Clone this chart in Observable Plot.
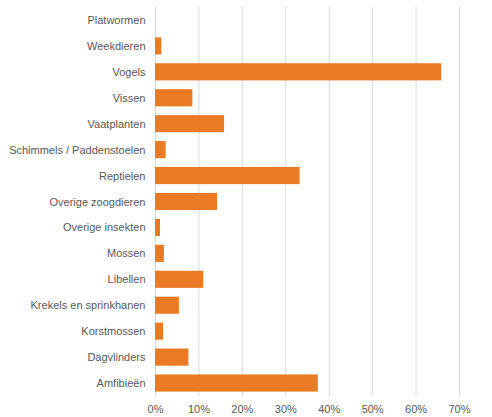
<!DOCTYPE html>
<html>
<head>
<meta charset="utf-8">
<script src="https://cdn.jsdelivr.net/npm/d3@7"></script>
<script src="https://cdn.jsdelivr.net/npm/@observablehq/plot@0.6"></script>
<style>
  html, body { margin: 0; padding: 0; background: #fff; }
  svg { display: block; }
</style>
</head>
<body>
<div id="chart"></div>
<script>
const categories = [
  "Platwormen", "Weekdieren", "Vogels", "Vissen", "Vaatplanten",
  "Schimmels / Paddenstoelen", "Reptielen", "Overige zoogdieren",
  "Overige insekten", "Mossen", "Libellen", "Krekels en sprinkhanen",
  "Korstmossen", "Dagvlinders", "Amfibieën"
];
const values = [0, 1.45, 65.9, 8.6, 15.9, 2.45, 33.3, 14.3, 1.15, 2.05, 11.1, 5.5, 1.85, 7.7, 37.5];
const xTicks = [0, 10, 20, 30, 40, 50, 60, 70];

const data = categories.map((c, i) => ({category: c, value: values[i]}));

const chart = Plot.plot({
  width: 492,
  height: 417,
  marginLeft: 155,
  marginRight: 33,
  marginTop: 7,
  marginBottom: 21,
  style: {fontFamily: "'Liberation Sans', Arial, sans-serif", fontSize: "11px", color: "#595959", background: "#fff"},
  x: {domain: [0, 70], ticks: xTicks, tickFormat: d => d + "%", label: null},
  y: {domain: categories, paddingInner: 0.34, paddingOuter: 0.17, round: false, label: null},
  marks: [
    Plot.gridX(xTicks, {stroke: "#d9d9d9", strokeOpacity: 1, strokeWidth: 1}),
    Plot.barX(data, {x: "value", y: "category", fill: "#ea7a24"}),
    Plot.axisX(xTicks, {tickSize: 0, tickPadding: 9, tickFormat: d => d + "%", fill: "#595959", fontSize: 11, label: null}),
    Plot.axisY(categories, {tickSize: 0, tickPadding: 10, fill: "#595959", fontSize: 11, label: null})
  ]
});
document.getElementById("chart").appendChild(chart);
</script>
</body>
</html>
